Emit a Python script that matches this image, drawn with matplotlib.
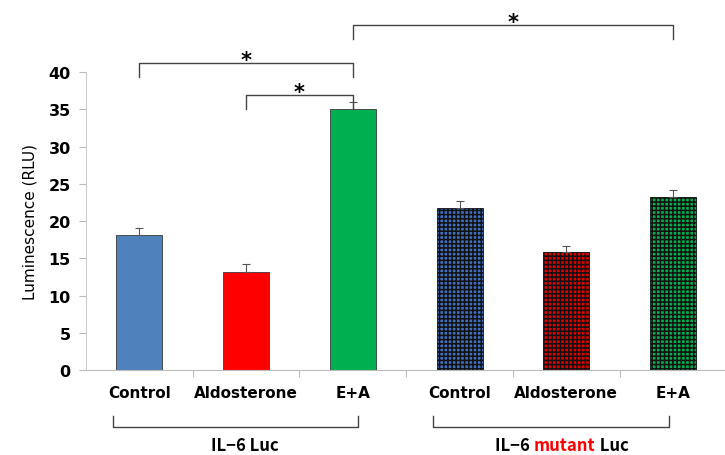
import matplotlib
matplotlib.use("Agg")
import matplotlib.pyplot as plt
import numpy as np

categories = ["Control", "Aldosterone", "E+A", "Control", "Aldosterone", "E+A"]
values = [18.1, 13.2, 35.0, 21.7, 15.8, 23.2]
errors = [1.0, 1.0, 1.0, 1.0, 0.8, 1.0]
colors = ["#4F81BD", "#FF0000", "#00B050", "#3F6FBF", "#E00000", "#00B050"]
hatched = [False, False, False, True, True, True]
yticks = [0, 5, 10, 15, 20, 25, 30, 35, 40]
groups = ["IL\u22126 Luc", "IL\u22126 mutant Luc"]
# significance brackets: (left index, right index, bar height of bracket)
sig = [(2, 5, 46.3), (0, 2, 41.2), (1, 2, 36.9)]

plt.rcParams['hatch.linewidth'] = 1.1
plt.rcParams['hatch.color'] = "#111111"
fig = plt.figure(figsize=(7.25, 4.56), dpi=100)
ax = fig.add_axes([0.1186, 0.1864, 0.8834, 0.6535])
x = np.arange(len(categories))
for i in range(len(categories)):
    ax.bar(x[i], values[i], width=0.43, color=colors[i],
           edgecolor="#111111" if hatched[i] else "#3a3a3a", linewidth=0.6,
           hatch="++++" if hatched[i] else None, zorder=2)
    ax.errorbar(x[i], values[i], yerr=[[0], [errors[i]]], fmt="none",
                ecolor="#555555", elinewidth=0.8, capsize=3, capthick=0.8, zorder=3)

ax.set_xlim(-0.5, 5.5)
ax.set_ylim(0, 40)
ax.set_yticks(yticks)
ax.set_yticklabels([str(v) for v in yticks], fontsize=11.5, fontweight="bold")
ax.set_ylabel("Luminescence (RLU)", fontsize=11, labelpad=8)
ax.set_xticks(x)
ax.set_xticklabels(categories, fontsize=11, fontweight="bold")
ax.tick_params(axis="x", length=0, pad=11)
ax.set_xticks(np.arange(-0.5, 6, 1)[1:-1], minor=True)
ax.tick_params(axis="x", which="minor", length=5, color="#bbbbbb", width=0.8)
ax.tick_params(axis="y", length=5, color="#bbbbbb", width=0.8, pad=6)
for s in ["top", "right"]:
    ax.spines[s].set_visible(False)
ax.spines["left"].set_color("#cccccc")
ax.spines["bottom"].set_color("#bbbbbb")

# significance brackets
for l, r, h in sig:
    ax.plot([l, l, r, r], [h - 1.9, h, h, h - 1.9], color="#444444", lw=1.0,
            clip_on=False, zorder=4)
    ax.text((l + r) / 2, h - 0.9, "*", ha="center", va="bottom",
            fontsize=15, fontweight="bold", clip_on=False)

# group brackets below axis
trans = ax.get_xaxis_transform()
for gi, (l, r) in enumerate([(-0.25, 2.05), (2.75, 4.96)]):
    ax.plot([l, l, r, r], [-0.154, -0.191, -0.191, -0.154], color="#444444", lw=1.0,
            transform=trans, clip_on=False)

fam = ["Noto Sans CJK JP", "DejaVu Sans"]
fig.text(0.338, 0.022, groups[0], ha="center", va="center", fontsize=12,
         family=fam, fontweight="bold")
# multi-colored label
parts = [("IL\u22126 ", "black"), ("mutant", "red"), (" Luc", "black")]
fig.canvas.draw()
r = fig.canvas.get_renderer()
texts = []
widths = []
for s, c in parts:
    t = fig.text(0, 0.022, s, ha="left", va="center", fontsize=12, color=c,
                 family=fam, fontweight="bold")
    widths.append(t.get_window_extent(r).width)
    texts.append(t)
total = sum(widths)
start = 0.775 * 725 - total / 2
for t, w in zip(texts, widths):
    t.set_x(start / 725)
    start += w

fig.savefig("out.png", dpi=100)
